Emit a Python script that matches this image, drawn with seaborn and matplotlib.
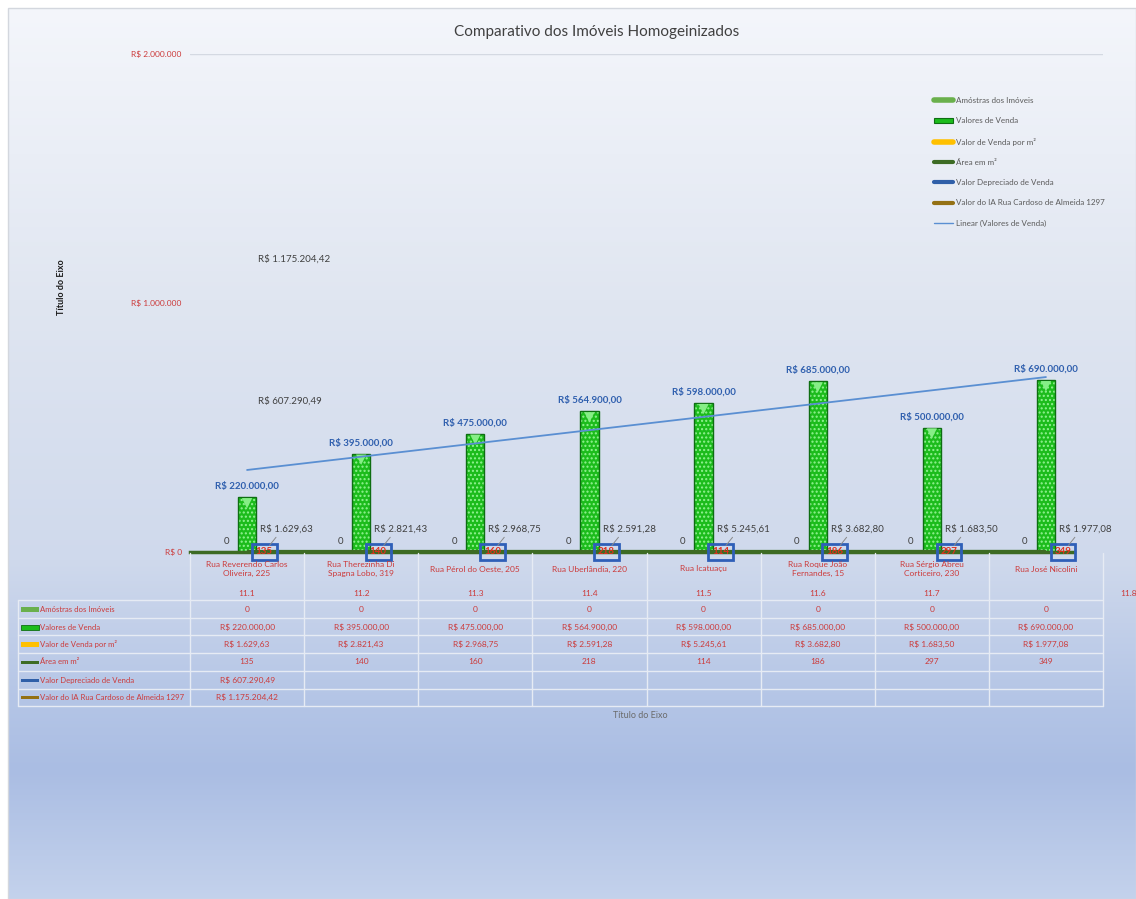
import textwrap
import numpy as np
import pandas as pd
import matplotlib
matplotlib.use("Agg")
import matplotlib.pyplot as plt
import seaborn as sns
from matplotlib import transforms
from matplotlib.lines import Line2D
from matplotlib.patches import Patch, Rectangle

# ---------------- data ----------------
categories = [
    "Rua Reverendo Carlos Oliveira, 225",
    "Rua Therezinha Di Spagna Lobo, 319",
    "Rua Pérol do Oeste, 205",
    "Rua Uberlândia, 220",
    "Rua Icatuaçu",
    "Rua Roque João Fernandes, 15",
    "Rua Sérgio Abreu Corticeiro, 230",
    "Rua José Nicolini",
]
codes = ["11.1", "11.2", "11.3", "11.4", "11.5", "11.6", "11.7", "11.8"]
amostras = [0, 0, 0, 0, 0, 0, 0, 0]
valores_venda = [220000, 395000, 475000, 564900, 598000, 685000, 500000, 690000]
valor_m2 = [1629.63, 2821.43, 2968.75, 2591.28, 5245.61, 3682.80, 1683.50, 1977.08]
area_m2 = [135, 140, 160, 218, 114, 186, 297, 349]
valor_depreciado = [607290.49, None, None, None, None, None, None, None]
valor_ia = [1175204.42, None, None, None, None, None, None, None]
y_ticks = [0, 1000000, 2000000]
y_tick_labels = ["R$ 0", "R$ 1.000.000", "R$ 2.000.000"]
series_names = [
    "Amóstras dos Imóveis",
    "Valores de Venda",
    "Valor de Venda por m²",
    "Área em m²",
    "Valor Depreciado de Venda",
    "Valor do IA Rua Cardoso de Almeida 1297",
]
trend_name = "Linear (Valores de Venda)"
title = "Comparativo dos Imóveis Homogeinizados"
axis_title = "Título do Eixo"

def brl(v):
    s = f"{v:,.2f}"
    return "R$ " + s.replace(",", "X").replace(".", ",").replace("X", ".")

# ---------------- style ----------------
sns.set_theme(style="white")
plt.rcParams["font.family"] = ["Lato", "DejaVu Sans"]

W, H = 1136, 899
fig = plt.figure(figsize=(W / 100, H / 100), dpi=100)
fig.patch.set_facecolor("white")

def fx(px):
    return px / W

def fy(py):
    return 1 - py / H

# gradient background
bg = fig.add_axes([0, 0, 1, 1], zorder=-10)
bg.set_xlim(0, W)
bg.set_ylim(H, 0)
bg.axis("off")
stops_y = [8, 300, 560, 700, 770, 899]
stops_c = ["#f4f6fb", "#e0e6f1", "#cfd9ec", "#b4c5e6", "#aabde3", "#c4d2ec"]
rgb = np.array([matplotlib.colors.to_rgb(c) for c in stops_c])
yy = np.arange(8, H)
grad = np.stack([np.interp(yy, stops_y, rgb[:, k]) for k in range(3)], axis=1)
bg.imshow(grad[:, None, :], extent=(8, W, H, 8), aspect="auto", interpolation="bilinear")
bg.add_patch(Rectangle((8, 8), W - 8, H - 8, fill=False, ec="#d3d7de", lw=1))

# ---------------- main axes ----------------
ax = fig.add_axes([fx(190), fy(552), fx(1103) - fx(190), fy(54) - fy(552)])
ax.patch.set_alpha(0)

df = pd.DataFrame({"Imóvel": categories, "Valores de Venda": valores_venda})
sns.barplot(data=df, x="Imóvel", y="Valores de Venda", ax=ax, width=0.16,
            color="#1cbc1c", saturation=1, hatch="....", zorder=3)
for p in ax.patches:
    p.set_edgecolor("#92f292")
    p.set_linewidth(0)
    ax.add_patch(Rectangle(p.get_xy(), p.get_width(), p.get_height(), fill=False,
                           ec="#0e6e12", lw=1.0, zorder=4))

xs = np.arange(len(categories))
ax.set_xlim(-0.5, len(categories) - 0.5)
ax.set_ylim(y_ticks[0], y_ticks[-1])

# triangle caps on bars
ax.scatter(xs, valores_venda, marker="v", s=55, color="#86ee86", edgecolor="none",
           zorder=5, transform=transforms.offset_copy(ax.transData, fig, 0, -6, units="dots"))

# value labels on bars
for x, v in zip(xs, valores_venda):
    ax.annotate(brl(v), (x, v), xytext=(0, 11), textcoords="offset pixels",
                ha="center", va="center", fontsize=7, fontweight="bold", color="#2f5fae")

# trendline
coef = np.polyfit(xs, valores_venda, 1)
ax.plot(xs, np.polyval(coef, xs), color="#5a8fd2", lw=1.3, zorder=6)

# area line
ax.plot(xs, area_m2, color="#3d6b24", lw=3, zorder=6, solid_capstyle="butt")

# amostras "0" labels
for x, v in zip(xs, amostras):
    ax.annotate(f"{v}", (x, v), xytext=(-21, 11), textcoords="offset pixels",
                ha="center", va="center", fontsize=7, color="#404040")

# area labels in blue boxes + per m2 labels with leaders
for x, a, m in zip(xs, area_m2, valor_m2):
    ax.annotate(f"{a}", (x + 0.15, 0), ha="center", va="center", fontsize=7,
                fontweight="bold", color="#e0301e", zorder=8,
                bbox=dict(boxstyle="square,pad=0.4", fc="none", ec="#2f5fb8", lw=2))
    ax.annotate(brl(m), (x + 0.15, 0), xytext=(-4, 18), textcoords="offset pixels",
                ha="left", va="bottom", fontsize=7, color="#404040", zorder=8,
                arrowprops=dict(arrowstyle="-", color="#8a8a8a", lw=0.7,
                                shrinkA=0, shrinkB=6, relpos=(0.35, 0)))

# single-point series labels
for series in (valor_depreciado, valor_ia):
    for x, v in zip(xs, series):
        if v is not None:
            ax.annotate(brl(v), (x, v), xytext=(11, 0), textcoords="offset pixels",
                        ha="left", va="center", fontsize=7, color="#404040")

# axes styling
ax.axhline(y_ticks[-1], color="#d4d9e2", lw=1, zorder=1)
ax.set_yticks(y_ticks)
ax.set_yticklabels(y_tick_labels, color="#cc3a3a", fontsize=6)
ax.tick_params(axis="y", length=0, pad=6)
ax.tick_params(axis="x", bottom=False, labelbottom=False)
ax.set_xlabel("")
ax.set_ylabel("")
for s in ("top", "right", "left"):
    ax.spines[s].set_visible(False)
ax.spines["bottom"].set_color("#3d6b24")
ax.spines["bottom"].set_linewidth(2.5)
ax.spines["bottom"].set_bounds(-0.5, len(categories) - 0.75)
ax.spines["bottom"].set_zorder(5)

# titles
fig.text(fx(597), fy(32), title, ha="center", va="center", fontsize=11, color="#404040")
fig.text(fx(62), fy(287), axis_title, rotation=90, ha="center", va="center",
         fontsize=6.5, fontweight="bold", color="#1a1a1a")
fig.text(fx(640), fy(716), axis_title, ha="center", va="center", fontsize=6.5, color="#6b6b6b")

# ---------------- legend ----------------
handles = [
    Line2D([], [], color="#6ab04c", lw=4),
    Patch(facecolor="#1cbc1c", edgecolor="#0e6e12", lw=0.8),
    Line2D([], [], color="#ffc000", lw=4),
    Line2D([], [], color="#3d6b24", lw=3),
    Line2D([], [], color="#2f5fa8", lw=3),
    Line2D([], [], color="#947114", lw=3),
    Line2D([], [], color="#5a8fd2", lw=1),
]
leg = ax.legend(handles, series_names + [trend_name], loc="upper left",
                bbox_to_anchor=(fx(934), fy(97)), bbox_transform=fig.transFigure,
                frameon=False, fontsize=5.8, handlelength=2.3, handleheight=0.6,
                labelspacing=1.65, handletextpad=0.4, borderpad=0, borderaxespad=0)
for t in leg.get_texts():
    t.set_color("#5a5a5a")

# ---------------- data table ----------------
trans = transforms.blended_transform_factory(ax.transData, fig.transFigure)
grid_c = "#e6ebf4"
row_tops = [600, 618, 635, 653, 671, 689, 706]
for ry in row_tops:
    fig.add_artist(Line2D([fx(18), fx(1103)], [fy(ry), fy(ry)], transform=fig.transFigure,
                          color=grid_c, lw=1))
for k in range(len(categories) + 1):
    fig.add_artist(Line2D([k - 0.5, k - 0.5], [fy(553), fy(706)], transform=trans,
                          color=grid_c, lw=1))
fig.add_artist(Line2D([fx(18), fx(18)], [fy(600), fy(706)], transform=fig.transFigure,
                      color=grid_c, lw=1))

red = "#cc3a3a"
for i, (c, code) in enumerate(zip(categories, codes)):
    fig.text(i, fy(569), textwrap.fill(c, 23), transform=trans, ha="center", va="center",
             fontsize=6, color=red, linespacing=1.35)
    cx = i if i < len(categories) - 1 else i + 0.72
    fig.text(cx, fy(593), code, transform=trans, ha="center", va="center",
             fontsize=6, color=red)

row_centers = [609, 627, 644, 662, 680, 697]
rows = [
    [f"{v}" for v in amostras],
    [brl(v) for v in valores_venda],
    [brl(v) for v in valor_m2],
    [f"{v}" for v in area_m2],
    [brl(v) if v is not None else "" for v in valor_depreciado],
    [brl(v) if v is not None else "" for v in valor_ia],
]
key_styles = [
    dict(fc="#6ab04c", ec="none", h=5),
    dict(fc="#1cbc1c", ec="#0e6e12", h=5),
    dict(fc="#ffc000", ec="none", h=5),
    dict(fc="#3d6b24", ec="none", h=3),
    dict(fc="#2f5fa8", ec="none", h=3),
    dict(fc="#947114", ec="none", h=3),
]
for name, vals, ry, ks in zip(series_names, rows, row_centers, key_styles):
    fig.add_artist(Rectangle((fx(21), fy(ry + ks["h"] / 2)), fx(18), ks["h"] / H,
                             transform=fig.transFigure, fc=ks["fc"], ec=ks["ec"], lw=0.6))
    fig.text(fx(40), fy(ry), name, ha="left", va="center", fontsize=5.6, color=red)
    for i, v in enumerate(vals):
        fig.text(i, fy(ry), v, transform=trans, ha="center", va="center",
                 fontsize=6, color=red)

fig.savefig("out.png", dpi=100)
